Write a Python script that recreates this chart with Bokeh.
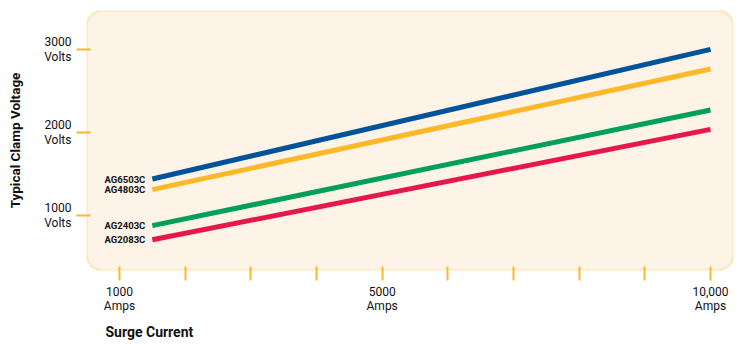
from bokeh.plotting import figure
from bokeh.models import Range1d, FixedTicker, BoxAnnotation, Title
from bokeh.core.properties import value
from bokeh.embed import file_html
from bokeh.resources import INLINE

# ---- data ----
amps = [1500, 10000]
series_names = ["AG6503C", "AG4803C", "AG2403C", "AG2083C"]
ag6503c = [1436, 3000]
ag4803c = [1308, 2762]
ag2403c = [874, 2268]
ag2083c = [703, 2035]
series_values = [ag6503c, ag4803c, ag2403c, ag2083c]
series_colors = ["#00529b", "#fdb827", "#00a05b", "#e8174b"]

x_ticks = [1000, 2000, 3000, 4000, 5000, 6000, 7000, 8000, 9000, 10000]
x_tick_labels = {1000: "1000\nAmps", 5000: "5000\nAmps", 10000: "10,000\nAmps"}
y_ticks = [1000, 2000, 3000]
y_tick_labels = {1000: "1000\nVolts", 2000: "2000\nVolts", 3000: "3000\nVolts"}

FONT = "Roboto"
ORANGE = "#fdb827"
CREAM = "#fdf3e6"

p = figure(width=736, height=345, output_backend="svg", toolbar_location=None,
           x_range=Range1d(497.5, 10350), y_range=Range1d(333, 3468),
           min_border_left=86, min_border_right=3, min_border_top=10, min_border_bottom=74)
p.background_fill_color = "white"
p.border_fill_color = "white"
p.outline_line_color = None
p.grid.visible = False

box = BoxAnnotation(fill_color=CREAM, fill_alpha=1.0, line_color=ORANGE, line_width=2,
                    border_radius=16, level="underlay")
p.add_layout(box)

for name, vals, col in zip(series_names, series_values, series_colors):
    p.line(amps, vals, line_width=5, line_color=col, line_cap="butt")

p.text(x=[amps[0]] * len(series_names), y=[v[0] for v in series_values], text=series_names,
       text_align="right", text_baseline="middle", x_offset=-7,
       text_font=value(FONT), text_font_size="9.5px", text_font_style="bold", text_color="#111111")

for ax in (p.xaxis[0], p.yaxis[0]):
    ax.axis_line_color = None
    ax.major_tick_line_color = ORANGE
    ax.major_tick_line_width = 2
    ax.major_tick_out = 10
    ax.major_tick_in = 4
    ax.minor_tick_line_color = None
    ax.major_label_text_font = FONT
    ax.major_label_text_font_size = "12px"
    ax.major_label_text_color = "#111111"
    ax.major_label_text_line_height = 1.05

p.xaxis.ticker = FixedTicker(ticks=x_ticks)
p.xaxis.major_label_overrides = {k: x_tick_labels.get(k, "") for k in x_ticks}
p.xaxis.major_label_standoff = 4

p.yaxis.ticker = FixedTicker(ticks=y_ticks)
p.yaxis.major_label_overrides = y_tick_labels
p.yaxis.major_label_standoff = 5
p.yaxis.axis_label = "Typical Clamp Voltage"
p.yaxis.axis_label_text_font = FONT
p.yaxis.axis_label_text_font_size = "13.5px"
p.yaxis.axis_label_text_font_style = "bold"
p.yaxis.axis_label_text_color = "#111111"
p.yaxis.axis_label_standoff = 18

p.add_layout(Title(text="Surge Current", align="left", offset=19, text_font=FONT,
                   text_font_size="14px", text_font_style="bold", text_color="#111111",
                   standoff=11), "below")

open("out.html", "w").write(file_html(p, INLINE))
